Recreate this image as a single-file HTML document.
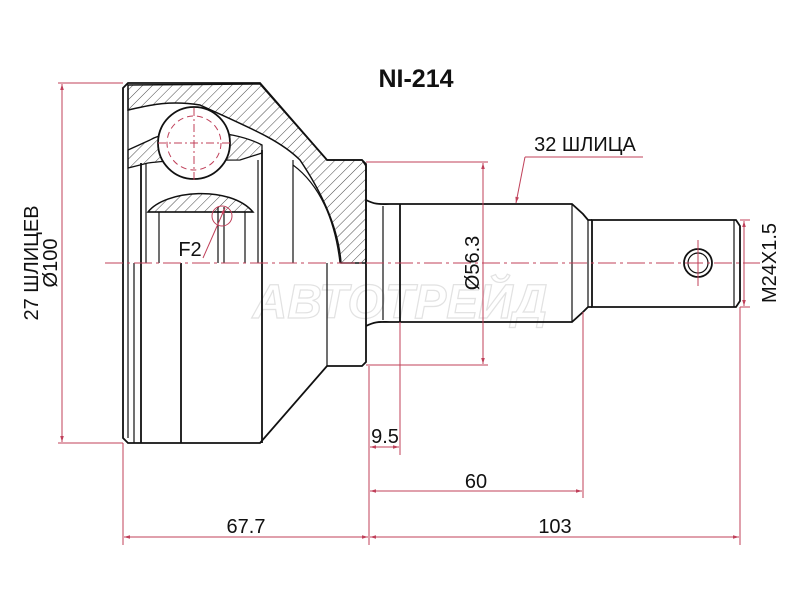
<!DOCTYPE html>
<html><head><meta charset="utf-8"><style>html,body{margin:0;padding:0;background:#fff}svg{display:block}</style></head><body>
<svg width="800" height="600" viewBox="0 0 800 600" xmlns="http://www.w3.org/2000/svg" font-family="Liberation Sans, sans-serif">
<defs>
<pattern id="h" width="7" height="7" patternUnits="userSpaceOnUse" patternTransform="rotate(45)">
<line x1="0" y1="0" x2="0" y2="7" stroke="#333" stroke-width="0.9"/>
</pattern>
<marker id="a" viewBox="0 0 10 10" refX="10" refY="5" markerWidth="8" markerHeight="6" orient="auto-start-reverse"><path d="M0,2 L10,5 L0,8z" fill="#c0405a"/></marker>
</defs>
<text x="400" y="318" font-size="48" font-style="italic" font-weight="bold" fill="none" stroke="#e2e2e2" stroke-width="1.2" text-anchor="middle">АВТОТРЕЙД</text>
<path d="M128,85 L260,84 L327,160 L362,160 L366,166 L366,263 L341,263 C338,225 320,190 300,160 C280,140 250,128 200,105 C170,100 150,105 128,110 Z" fill="url(#h)" stroke="#111" stroke-width="1.5"/>
<path d="M128,150 L150,140 C170,128 230,128 262,145 L262,153 L240,160 C200,160 170,160 148,163 L128,168 Z" fill="url(#h)" stroke="#111" stroke-width="1.3"/>
<path d="M148,212 C165,190 230,185 253,212 Z" fill="url(#h)" stroke="#111" stroke-width="1.5"/>
<circle cx="194" cy="143" r="36" fill="#fff" stroke="#111" stroke-width="1.8"/>
<circle cx="194" cy="143" r="27" fill="none" stroke="#c0405a" stroke-width="1" stroke-dasharray="6,4"/>
<line x1="194" y1="108" x2="194" y2="180" stroke="#c0405a" stroke-dasharray="8,3,2,3"/>
<line x1="158" y1="143" x2="230" y2="143" stroke="#c0405a" stroke-dasharray="8,3,2,3"/>
<g fill="none" stroke="#111" stroke-width="1.8">
<path d="M128,83 L260,83 L327,160 L362,160 L366,164 L366,362 L362,366 L327,366 L260,443 L128,443 L123,438 L123,88 Z"/>
<line x1="128" y1="88" x2="128" y2="438" stroke-width="1.2"/>
<line x1="134" y1="263" x2="134" y2="443" stroke-width="1.2"/>
<line x1="141" y1="163" x2="141" y2="443"/>
<line x1="146" y1="163" x2="146" y2="263" stroke-width="1.2"/>
<line x1="159" y1="212" x2="159" y2="263" stroke-width="1.2"/>
<line x1="181" y1="263" x2="181" y2="443"/>
<line x1="218" y1="207" x2="218" y2="263" stroke-width="1.2"/>
<line x1="224" y1="207" x2="224" y2="263" stroke-width="1.2"/>
<line x1="245" y1="212" x2="245" y2="263" stroke-width="1.2"/>
<line x1="258" y1="160" x2="258" y2="263" stroke-width="1.2"/>
<line x1="262" y1="150" x2="262" y2="443"/>
<line x1="293" y1="160" x2="293" y2="263" stroke-width="1.2"/>
<line x1="327" y1="263" x2="327" y2="366" stroke-width="1.2"/>
<line x1="148" y1="212" x2="253" y2="212" stroke-width="1.2"/>
<path d="M293,165 C320,185 335,220 340,263" stroke-width="1.2"/>
<path d="M366,200 C376,205 380,204 390,204 L400,204 L572,204 L583,214 L588,220 L592,220"/>
<path d="M366,326 C376,321 380,322 390,322 L400,322 L572,322 L583,312 L588,307 L592,307"/>
<line x1="400" y1="204" x2="400" y2="322"/>
<line x1="383" y1="206" x2="383" y2="320" stroke-width="1.2"/>
<line x1="572" y1="204" x2="572" y2="322" stroke-width="1.2"/>
<path d="M592,220 L736,220 L740,226 L740,301 L736,307 L592,307 Z"/>
<line x1="588" y1="220" x2="588" y2="307" stroke-width="1.2"/>
<line x1="734" y1="220" x2="734" y2="307" stroke-width="1.2"/>
<circle cx="698" cy="263" r="14"/>
<circle cx="698" cy="263" r="10" stroke-width="1.2"/>
</g>
<circle cx="222" cy="216" r="10" fill="none" stroke="#c0405a" stroke-width="1"/>
<line x1="105" y1="263" x2="760" y2="263" stroke="#c0405a" stroke-width="1" stroke-dasharray="18,4,3,4"/>
<line x1="698" y1="240" x2="698" y2="286" stroke="#c0405a" stroke-width="1"/>
<g stroke="#c0405a" stroke-width="1" fill="none">
<line x1="58" y1="83" x2="123" y2="83"/>
<line x1="58" y1="443" x2="123" y2="443"/>
<line x1="62" y1="84" x2="62" y2="442" marker-start="url(#a)" marker-end="url(#a)"/>
<line x1="366" y1="162" x2="488" y2="162"/>
<line x1="366" y1="365" x2="488" y2="365"/>
<line x1="483" y1="163" x2="483" y2="364" marker-start="url(#a)" marker-end="url(#a)"/>
<line x1="740" y1="220" x2="750" y2="220"/>
<line x1="740" y1="307" x2="750" y2="307"/>
<line x1="744" y1="221" x2="744" y2="306" marker-start="url(#a)" marker-end="url(#a)"/>
<line x1="123" y1="443" x2="123" y2="545"/>
<line x1="369" y1="366" x2="369" y2="545"/>
<line x1="400" y1="322" x2="400" y2="455"/>
<line x1="583" y1="312" x2="583" y2="498"/>
<line x1="740" y1="307" x2="740" y2="545"/>
<line x1="370" y1="447" x2="399" y2="447" marker-start="url(#a)" marker-end="url(#a)"/>
<line x1="370" y1="491" x2="582" y2="491" marker-start="url(#a)" marker-end="url(#a)"/>
<line x1="124" y1="537" x2="368" y2="537" marker-start="url(#a)" marker-end="url(#a)"/>
<line x1="370" y1="537" x2="739" y2="537" marker-start="url(#a)" marker-end="url(#a)"/>
<line x1="525" y1="157" x2="643" y2="157"/>
<line x1="525" y1="157" x2="516" y2="203" marker-end="url(#a)"/>
<line x1="225" y1="208" x2="203" y2="258" marker-start="url(#a)"/>
</g>
<g fill="#111" font-size="20">
<text x="416" y="87" font-size="25" font-weight="bold" text-anchor="middle">NI-214</text>
<text x="585" y="151" text-anchor="middle">32 ШЛИЦА</text>
<text x="190" y="256" text-anchor="middle">F2</text>
<text x="385" y="443" text-anchor="middle">9.5</text>
<text x="476" y="488" text-anchor="middle">60</text>
<text x="246" y="533" text-anchor="middle">67.7</text>
<text x="555" y="533" text-anchor="middle">103</text>
<text transform="translate(479,263) rotate(-90)" text-anchor="middle">Ø56.3</text>
<text transform="translate(776,263) rotate(-90)" text-anchor="middle">M24X1.5</text>
<text transform="translate(38,263) rotate(-90)" text-anchor="middle">27 ШЛИЦЕВ</text>
<text transform="translate(57,263) rotate(-90)" text-anchor="middle">Ø100</text>
</g>
</svg>
</body></html>
